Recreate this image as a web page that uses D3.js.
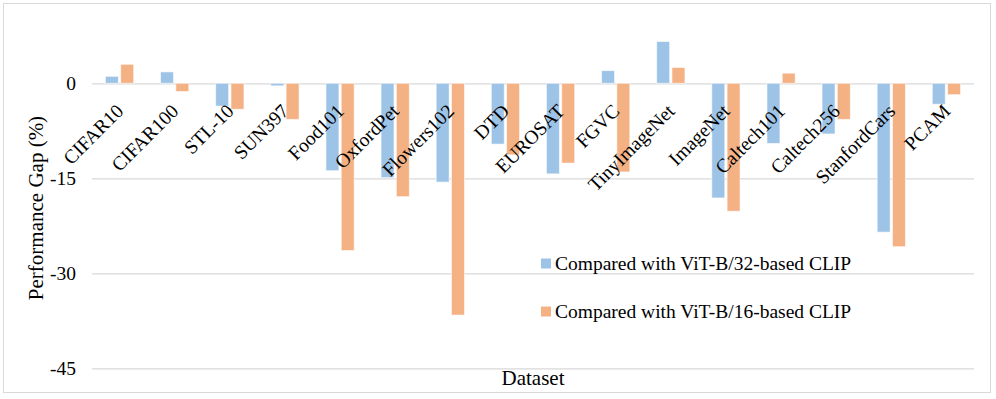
<!DOCTYPE html>
<meta charset="utf-8">
<title>Performance Gap</title>
<script src="https://d3js.org/d3.v7.min.js"></script>
<style>
  body { margin: 0; background: #fff; }
  text { font-family: "Liberation Serif", "Times New Roman", serif; fill: #000; }
</style>
<body>
<div id="chart"></div>
<script>
// data
var datasets = ["CIFAR10", "CIFAR100", "STL-10", "SUN397", "Food101", "OxfordPet", "Flowers102", "DTD",
                "EUROSAT", "FGVC", "TinyImageNet", "ImageNet", "Caltech101", "Caltech256", "StanfordCars", "PCAM"];
var seriesNames = ["Compared with ViT-B/32-based CLIP", "Compared with ViT-B/16-based CLIP"];
var gapB32 = [1.1, 1.8, -3.6, -0.4, -13.8, -14.9, -15.6, -9.6, -14.3, 2.0, 6.6, -18.1, -9.5, -8.0, -23.5, -3.3];
var gapB16 = [3.0, -1.3, -4.1, -5.7, -26.4, -17.9, -36.6, -11.3, -12.6, -14.0, 2.5, -20.2, 1.6, -5.7, -25.8, -1.8];
var yTicks = [0, -15, -30, -45];
var colors = ["#9dc3e6", "#f4b183"];

var W = 996, H = 399;
var plot = {left: 92, right: 974, zeroY: 83.3, bottomY: 368.3};

var svg = d3.select("#chart").append("svg")
    .attr("width", W)
    .attr("height", H);

// chart border
svg.append("rect")
    .attr("x", 3.5).attr("y", 3.5)
    .attr("width", 987).attr("height", 389)
    .attr("fill", "none")
    .attr("stroke", "#d9d9d9");

var x0 = d3.scaleBand()
    .domain(datasets)
    .range([plot.left, plot.right])
    .paddingInner(0.487)
    .paddingOuter(0.2435);

var x1 = d3.scaleBand()
    .domain([0, 1])
    .range([0, x0.bandwidth()])
    .paddingInner(0.15);

var y = d3.scaleLinear()
    .domain([-45, 0])
    .range([plot.bottomY, plot.zeroY]);

// gridlines + y labels (plain hyphen like the original)
var yAxis = svg.append("g")
    .attr("transform", "translate(" + plot.left + ",0)")
    .call(d3.axisLeft(y).tickValues(yTicks).tickSize(-(plot.right - plot.left)).tickPadding(16)
      .tickFormat(function(d) { return String(d); }));
yAxis.select(".domain").remove();
yAxis.selectAll(".tick line").attr("stroke", "#d9d9d9").attr("stroke-width", 1.2);
yAxis.selectAll(".tick text")
    .style("font-family", "'Liberation Serif', serif")
    .style("font-size", "19.5px")
    .attr("fill", "#000");

// bars
var rows = datasets.map(function(d, i) { return {name: d, vals: [gapB32[i], gapB16[i]]}; });

var groups = svg.append("g").selectAll("g")
    .data(rows)
    .enter().append("g")
    .attr("transform", function(d) { return "translate(" + x0(d.name) + ",0)"; });

groups.selectAll("rect")
    .data(function(d) { return d.vals.map(function(v, k) { return {k: k, v: v}; }); })
    .enter().append("rect")
    .attr("x", function(d) { return x1(d.k); })
    .attr("width", x1.bandwidth())
    .attr("y", function(d) { return y(Math.max(0, d.v)); })
    .attr("height", function(d) { return Math.abs(y(d.v) - y(0)); })
    .attr("fill", function(d) { return colors[d.k]; })
    .attr("stroke", "#fff")
    .attr("stroke-opacity", 0.6)
    .attr("stroke-width", 1);

// category labels, rotated
svg.append("g").selectAll("text")
    .data(datasets)
    .enter().append("text")
    .attr("transform", function(d) {
      return "translate(" + (x0(d) + x0.bandwidth() / 2 + 5) + "," + (plot.zeroY + 29) + ") rotate(-45)";
    })
    .attr("text-anchor", "end")
    .style("font-size", "19.5px")
    .text(function(d) { return d; });

// legend
var legend = svg.append("g").selectAll("g")
    .data(seriesNames)
    .enter().append("g")
    .attr("transform", function(d, i) { return "translate(541," + (258.5 + i * 48) + ")"; });
legend.append("rect")
    .attr("width", 10).attr("height", 10)
    .attr("fill", function(d, i) { return colors[i]; });
legend.append("text")
    .attr("x", 14).attr("y", 11.5)
    .style("font-size", "19.5px")
    .text(function(d) { return d; });

// axis titles
svg.append("text")
    .attr("transform", "translate(43,208) rotate(-90)")
    .attr("text-anchor", "middle")
    .style("font-size", "21px")
    .text("Performance Gap (%)");

svg.append("text")
    .attr("x", 533).attr("y", 385)
    .attr("text-anchor", "middle")
    .style("font-size", "21px")
    .text("Dataset");
</script>
</body>
